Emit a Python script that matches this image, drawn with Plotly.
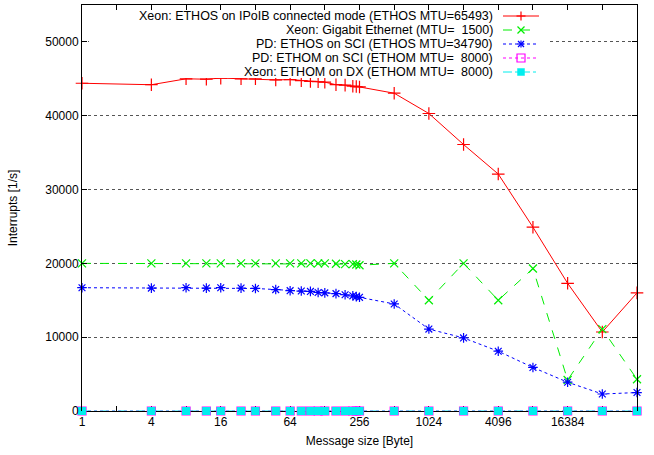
import math
import plotly.graph_objects as go

# ---- data -------------------------------------------------------------
msg_size = [1, 4, 8, 12, 16, 24, 32, 48, 64, 80, 96, 112, 128, 160, 192, 224, 240, 256,
            512, 1024, 2048, 4096, 8192, 16384, 32768, 65536]

xeon_ethos_ipoib = [44400, 44200, 45000, 44950, 45100, 45000, 45000, 44850, 44900, 44750,
                    44650, 44600, 44550, 44200, 44150, 44000, 43950, 43900,
                    43050, 40300, 36100, 32100, 24900, 17300, 10700, 16000]
xeon_gige = [20000, 20000, 20000, 20000, 20000, 20000, 20000, 20000, 20000, 20000,
             20000, 20000, 20000, 19950, 19900, 19900, 19850, 19750,
             20000, 15000, 20000, 15000, 19300, 4200, 11100, 4300]
pd_ethos_sci = [16700, 16650, 16700, 16650, 16700, 16650, 16600, 16450, 16300, 16250,
                16200, 16050, 16000, 15900, 15750, 15600, 15500, 15400,
                14500, 11100, 9900, 8100, 5900, 3900, 2300, 2500]
pd_ethom_sci = [0] * 26
xeon_ethom_dx = [0] * 26

series_names = [
    "Xeon: ETHOS on IPoIB connected mode (ETHOS MTU=65493)",
    "Xeon: Gigabit Ethernet (MTU=  1500)",
    "PD: ETHOS on SCI (ETHOS MTU=34790)",
    "PD: ETHOM on SCI (ETHOM MTU=  8000)",
    "Xeon: ETHOM on DX (ETHOM MTU=  8000)",
]

x_tick_values = [2 ** k for k in range(17)]
x_tick_labels = [str(v) if k % 2 == 0 else "" for k, v in enumerate(x_tick_values)]
y_tick_values = [0, 10000, 20000, 30000, 40000, 50000]
y_tick_labels = ["0", "10000", "20000", "30000", "40000", "50000"]

# ---- layout geometry (pixels) -------------------------------------------
W, H = 654, 455
L, R, T, B = 82, 17, 5, 44
PW, PH = W - L - R, H - T - B


def px_x(p):
    return (p - L) / PW


def px_y(p):
    return (H - B - p) / PH


FONT = "Liberation Sans, Arial, Helvetica, sans-serif"
fig = go.Figure()

styles = [
    dict(color="#ff0000", dash="solid", symbol="cross-thin", size=9, glyph="plus"),
    dict(color="#00ee00", dash="dash", symbol="x-thin", size=8, glyph="x"),
    dict(color="#0000ff", dash="dot", symbol="asterisk", size=8, glyph="star"),
    dict(color="#ff00ff", dash="dot", symbol="square-open", size=8, glyph="osq"),
    dict(color="#00eeee", dash="dashdot", symbol="square", size=7, glyph="fsq"),
]
values = [xeon_ethos_ipoib, xeon_gige, pd_ethos_sci, pd_ethom_sci, xeon_ethom_dx]

for name, ys, st in zip(series_names, values, styles):
    fig.add_trace(go.Scatter(
        x=msg_size, y=ys, name=name, mode="lines+markers",
        line=dict(color=st["color"], width=1, dash=st["dash"]),
        marker=dict(symbol=st["symbol"], size=st["size"], color=st["color"],
                    line=dict(color=st["color"], width=1.2)),
        cliponaxis=False, showlegend=False,
    ))

# ---- key (gnuplot style: right-aligned text, sample on the right) -----------
shapes = [dict(type="rect", xref="paper", yref="paper",
               x0=px_x(89), x1=px_x(547), y0=px_y(78), y1=px_y(12),
               fillcolor="white", line=dict(width=0), layer="above")]
annotations = []
row_y = [16, 30, 44, 58, 72]
text_right, s0, s1, sc = 494, 503, 539, 521
for name, st, ry in zip(series_names, styles, row_y):
    c = st["color"]
    annotations.append(dict(text=name, xref="paper", yref="paper", x=px_x(text_right),
                            y=px_y(ry), xanchor="right", yanchor="middle", showarrow=False,
                            borderpad=0,
                            font=dict(family=FONT, size=12.5, color="black")))
    shapes.append(dict(type="line", xref="paper", yref="paper", x0=px_x(s0), x1=px_x(s1),
                       y0=px_y(ry), y1=px_y(ry), line=dict(color=c, width=1, dash=st["dash"]),
                       layer="above"))
    g = st["glyph"]
    segs = []
    if g in ("plus", "star"):
        d = 4.5 if g == "plus" else 3.5
        segs += [(sc - d, ry, sc + d, ry), (sc, ry - d, sc, ry + d)]
    if g in ("x", "star"):
        d = 3.5 if g == "x" else 3
        segs += [(sc - d, ry - d, sc + d, ry + d), (sc - d, ry + d, sc + d, ry - d)]
    for (a, b, cc, dd) in segs:
        shapes.append(dict(type="line", xref="paper", yref="paper", x0=px_x(a), x1=px_x(cc),
                           y0=px_y(b), y1=px_y(dd), line=dict(color=c, width=1.2),
                           layer="above"))
    if g == "osq":
        shapes.append(dict(type="rect", xref="paper", yref="paper", x0=px_x(sc - 4),
                           x1=px_x(sc + 4), y0=px_y(ry + 4), y1=px_y(ry - 4),
                           line=dict(color=c, width=1.2), fillcolor="rgba(0,0,0,0)",
                           layer="above"))
    if g == "fsq":
        shapes.append(dict(type="rect", xref="paper", yref="paper", x0=px_x(sc - 3.5),
                           x1=px_x(sc + 3.5), y0=px_y(ry + 3.5), y1=px_y(ry - 3.5),
                           line=dict(color=c, width=0.5), fillcolor=c, layer="above"))

axis_common = dict(
    showline=True, linecolor="black", linewidth=1, mirror="ticks",
    ticks="inside", ticklen=5, tickcolor="black",
    zeroline=False, tickfont=dict(family=FONT, size=12, color="black"),
)

fig.update_layout(
    width=W, height=H,
    margin=dict(l=L, r=R, t=T, b=B),
    paper_bgcolor="white", plot_bgcolor="white",
    font=dict(family=FONT, size=12, color="black"),
    showlegend=False,
    shapes=shapes, annotations=annotations,
    xaxis=dict(type="log", range=[0, math.log10(65536)],
               tickmode="array", tickvals=x_tick_values, ticktext=x_tick_labels,
               showgrid=False, layer="below traces",
               title=dict(text="Message size [Byte]", font=dict(family=FONT, size=12), standoff=8),
               **axis_common),
    yaxis=dict(range=[0, 55000], tickmode="array", tickvals=y_tick_values,
               ticktext=y_tick_labels,
               showgrid=True, gridcolor="#555555", griddash="dot", gridwidth=1,
               title=dict(text="Interrupts [1/s]", font=dict(family=FONT, size=12), standoff=25),
               **axis_common),
)

fig.write_html("out.html", config={"displayModeBar": False},
               post_script="document.body.style.margin='0px';")
